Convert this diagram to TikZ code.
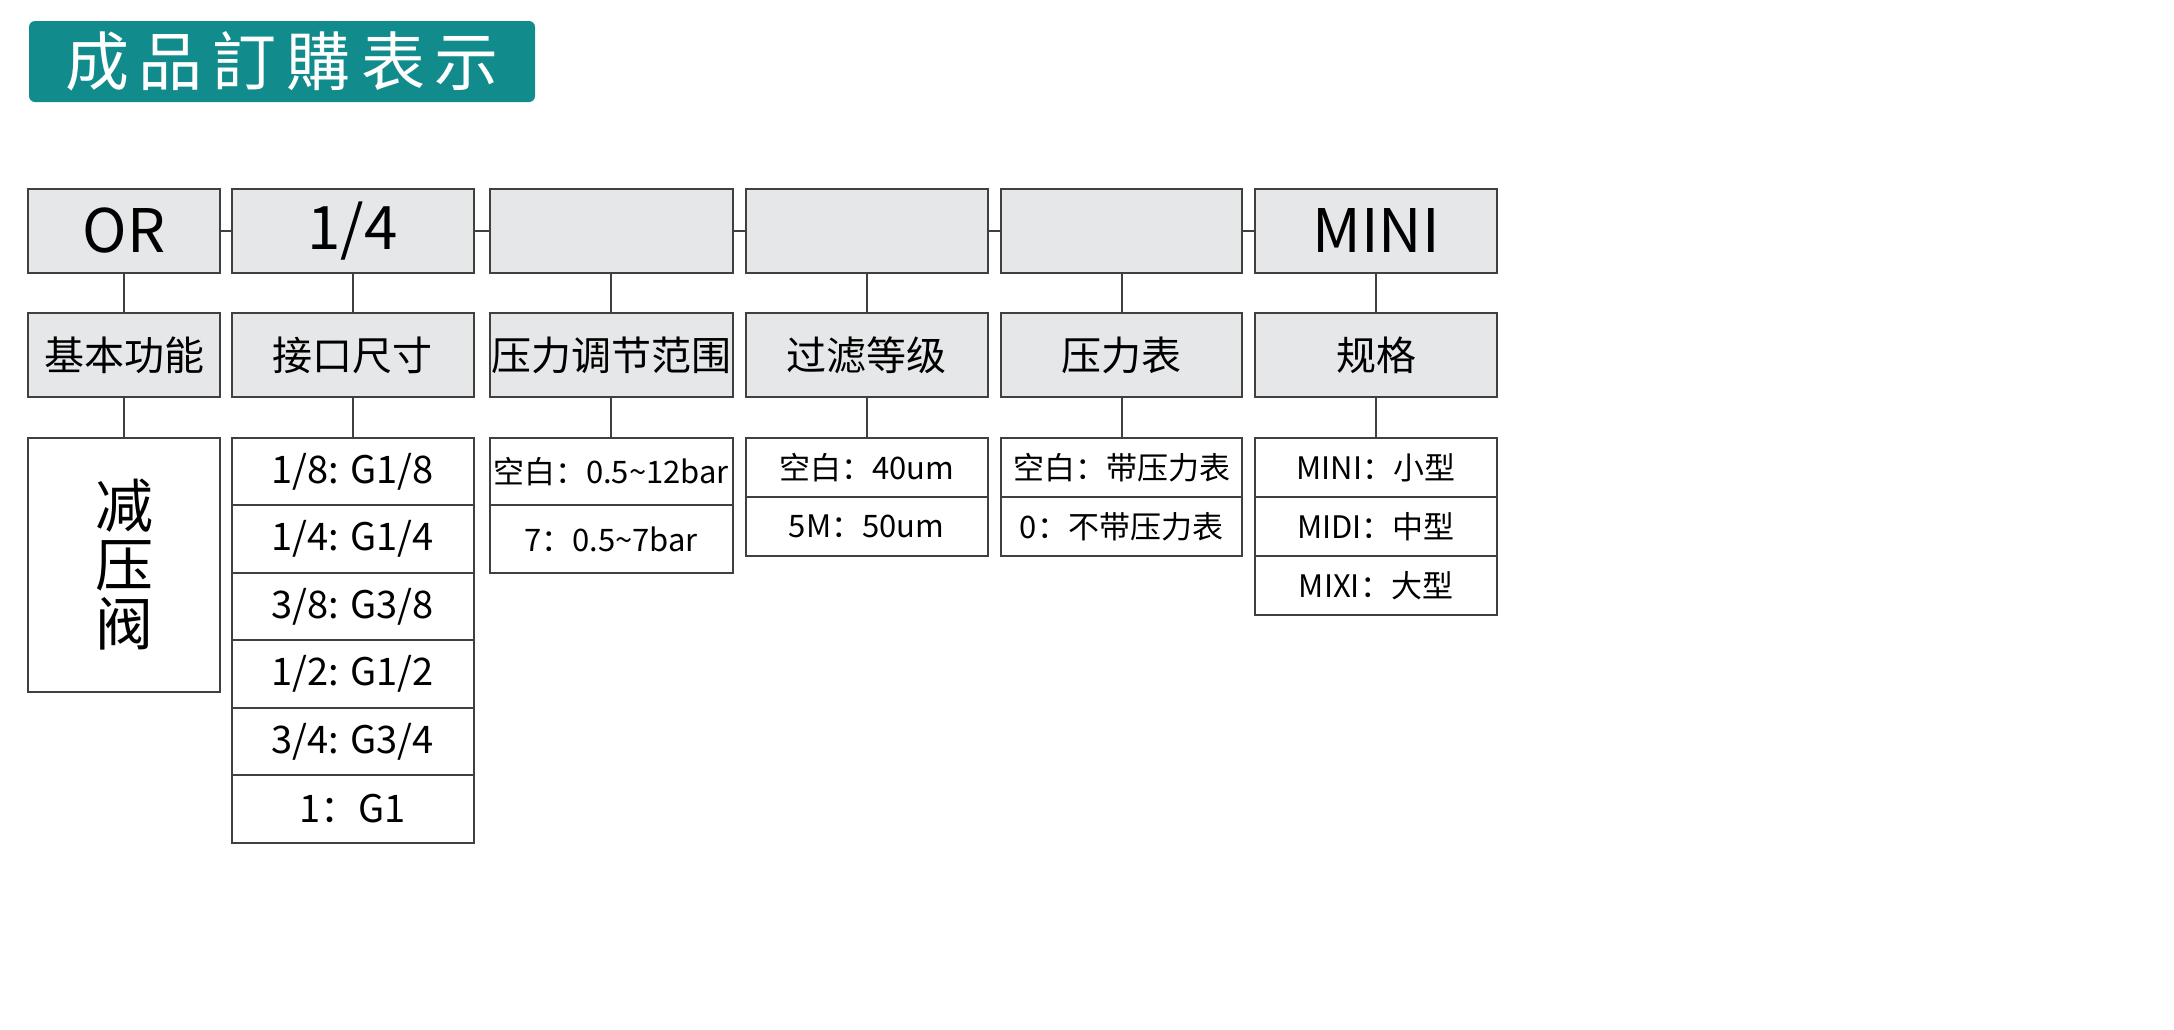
\documentclass[tikz,border=0pt]{standalone}
\usepackage{fontspec}
\newfontfamily\cjk{Noto Sans CJK SC}
\definecolor{banner}{HTML}{118B8C}
\definecolor{boxgray}{HTML}{E6E7E9}
\definecolor{linegray}{HTML}{404040}
\begin{document}
\begin{tikzpicture}[x=0.5pt, y=-0.5pt]
  \tikzstyle{box}=[rectangle, draw=linegray, line width=1pt, inner sep=0pt, font=\cjk]
  \tikzstyle{head}=[box, fill=boxgray, minimum height=42pt, font=\cjk\fontsize{30}{31}\selectfont]
  \tikzstyle{cat}=[box, fill=boxgray, minimum height=42pt, font=\cjk\fontsize{20}{22}\selectfont]
  \tikzstyle{port}=[box, fill=white, minimum width=121pt, minimum height=33.75pt, font=\cjk\fontsize{19}{21}\selectfont]
  \tikzstyle{item}=[box, fill=white, font=\cjk\fontsize{15.5}{17}\selectfont]
  \tikzstyle{link}=[draw=linegray, line width=1pt]

  \useasboundingbox (0,0) rectangle (2174,1029);

  \node[fill=banner, rounded corners=3pt, minimum width=253pt, minimum height=40.5pt,
        inner sep=0pt, text=white, font=\cjk\fontsize{32}{32}\selectfont]
        (title) at (282, 61.5) {成\kern5pt品\kern5pt訂\kern5pt購\kern5pt表\kern5pt示};

  % code row
  \node[head, minimum width=96pt]    (h1) at (124,    231) {OR};
  \node[head, minimum width=121pt]   (h2) at (352.5,  231) {1/4};
  \node[head, minimum width=121.5pt] (h3) at (611,    231) {};
  \node[head, minimum width=121pt]   (h4) at (866.5,  231) {};
  \node[head, minimum width=120.5pt] (h5) at (1121.5, 231) {};
  \node[head, minimum width=121pt]   (h6) at (1376,   231) {MINI};

  % categories
  \node[cat, minimum width=96pt]    (c1) at (124,    355) {基本功能};
  \node[cat, minimum width=121pt]   (c2) at (352.5,  355) {接口尺寸};
  \node[cat, minimum width=121.5pt] (c3) at (611,    355) {压力调节范围};
  \node[cat, minimum width=121pt]   (c4) at (866.5,  355) {过滤等级};
  \node[cat, minimum width=120.5pt] (c5) at (1121.5, 355) {压力表};
  \node[cat, minimum width=121pt]   (c6) at (1376,   355) {规格};

  % options
  \node[box, fill=white, minimum width=96pt, minimum height=127pt, align=center,
        font=\cjk\fontsize{29}{29.5}\selectfont] (o1) at (124, 565) {减\\压\\阀};

  \node[port] (o21) at (352.5, 471.5) {1/8: G1/8};
  \node[port] (o22) at (352.5, 539)   {1/4: G1/4};
  \node[port] (o23) at (352.5, 606.5) {3/8: G3/8};
  \node[port] (o24) at (352.5, 674)   {1/2: G1/2};
  \node[port] (o25) at (352.5, 741.5) {3/4: G3/4};
  \node[port] (o26) at (352.5, 809)   {1：G1};

  \node[item, minimum width=121.5pt, minimum height=33.75pt] (o31) at (611, 471.5) {空白：0.5\textasciitilde12bar};
  \node[item, minimum width=121.5pt, minimum height=33.75pt] (o32) at (611, 539)   {7：0.5\textasciitilde7bar};

  \node[item, minimum width=121pt, minimum height=29.5pt] (o41) at (866.5, 467.5) {空白：40um};
  \node[item, minimum width=121pt, minimum height=29.5pt] (o42) at (866.5, 526.5) {5M：50um};

  \node[item, minimum width=120.5pt, minimum height=29.5pt] (o51) at (1121.5, 467.5) {空白：带压力表};
  \node[item, minimum width=120.5pt, minimum height=29.5pt] (o52) at (1121.5, 526.5) {0：不带压力表};

  \node[item, minimum width=121pt, minimum height=29.5pt] (o61) at (1376, 467.5) {MINI：小型};
  \node[item, minimum width=121pt, minimum height=29.5pt] (o62) at (1376, 526.5) {MIDI：中型};
  \node[item, minimum width=121pt, minimum height=29.5pt] (o63) at (1376, 585.5) {MIXI：大型};

  \path[link] (h1) -- (h2);
  \path[link] (h2) -- (h3);
  \path[link] (h3) -- (h4);
  \path[link] (h4) -- (h5);
  \path[link] (h5) -- (h6);

  \path[link] (h1) -- (c1);
  \path[link] (h2) -- (c2);
  \path[link] (h3) -- (c3);
  \path[link] (h4) -- (c4);
  \path[link] (h5) -- (c5);
  \path[link] (h6) -- (c6);

  \path[link] (c1) -- (o1);
  \path[link] (c2) -- (o21);
  \path[link] (c3) -- (o31);
  \path[link] (c4) -- (o41);
  \path[link] (c5) -- (o51);
  \path[link] (c6) -- (o61);
\end{tikzpicture}
\end{document}
